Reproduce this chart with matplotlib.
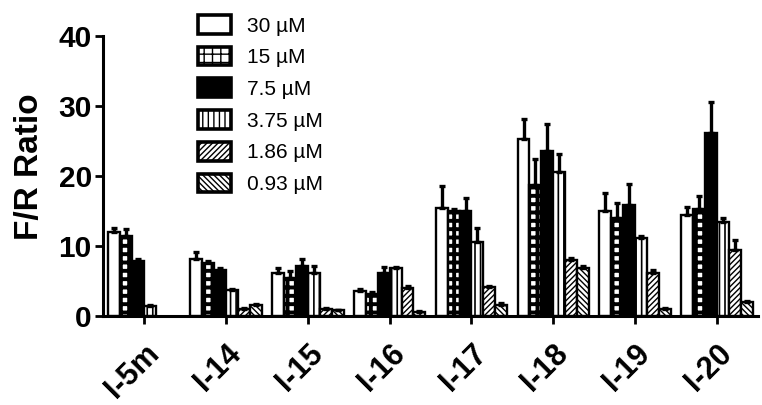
import numpy as np
import matplotlib
matplotlib.use("Agg")
import matplotlib.pyplot as plt

plt.rcParams["font.family"] = ["Liberation Sans", "DejaVu Sans"]
plt.rcParams["hatch.linewidth"] = 1.0

compounds = ["I-5m", "I-14", "I-15", "I-16", "I-17", "I-18", "I-19", "I-20"]
conc_labels = ["30 µM", "15 µM", "7.5 µM", "3.75 µM", "1.86 µM", "0.93 µM"]

v30 = [12.0, 8.1, 6.2, 3.5, 15.4, 25.3, 15.0, 14.4]
e30 = [0.5, 1.1, 0.7, 0.3, 3.1, 2.8, 2.5, 1.1]
v15 = [11.4, 7.5, 5.4, 3.2, 15.0, 18.7, 14.0, 15.3]
e15 = [1.0, 0.3, 1.0, 0.2, 0.3, 3.7, 2.1, 1.8]
v7_5 = [7.9, 6.5, 7.2, 6.1, 15.0, 23.5, 15.9, 26.1]
e7_5 = [0.2, 0.3, 0.9, 0.9, 1.9, 3.9, 2.9, 4.5]
v3_75 = [1.4, 3.7, 6.2, 6.8, 10.6, 20.6, 11.2, 13.4]
e3_75 = [0.1, 0.2, 1.0, 0.2, 1.9, 2.6, 0.2, 0.6]
v1_86 = [0.0, 1.0, 1.0, 4.0, 4.1, 8.0, 6.2, 9.4]
e1_86 = [0.0, 0.2, 0.1, 0.3, 0.2, 0.3, 0.3, 1.5]
v0_93 = [0.0, 1.5, 0.8, 0.6, 1.6, 6.8, 1.0, 2.0]
e0_93 = [0.0, 0.2, 0.1, 0.1, 0.2, 0.3, 0.2, 0.2]

series = [(v30, e30), (v15, e15), (v7_5, e7_5), (v3_75, e3_75), (v1_86, e1_86), (v0_93, e0_93)]
faces = ["white", "white", "black", "white", "white", "white"]
hatches = [None, "++", None, "|||", "//////", "\\\\\\\\\\\\"]
hatch_lw = [1.0, 2.8, 1.0, 1.2, 1.0, 1.0]

fig = plt.figure(figsize=(7.62, 4.05), dpi=100)
ax = fig.add_axes([0.135, 0.22, 0.86, 0.691])

x = np.arange(len(compounds))
w = 0.146
for i, (vals, errs) in enumerate(series):
    pos = x + (i - 2.5) * w
    h = np.array(vals, dtype=float)
    h[h == 0] = np.nan  # missing measurements: draw nothing
    with plt.rc_context({"hatch.linewidth": hatch_lw[i]}):
        bars = ax.bar(pos, h, width=w, color=faces[i], edgecolor="black",
                      hatch=hatches[i], linewidth=1.7, label=conc_labels[i], zorder=2)
        for b in bars:
            if hasattr(b, "set_hatch_linewidth"):
                b.set_hatch_linewidth(hatch_lw[i])
    ax.errorbar(pos, h, yerr=[np.zeros(len(errs)), errs], fmt="none", ecolor="black",
                elinewidth=2.4, capsize=2.5, capthick=2.4, zorder=3)

ax.set_xlim(-0.5, 7.5)
ax.set_ylim(0, 40)
ax.set_yticks([0, 10, 20, 30, 40])
ax.set_xticks(x)
ax.set_xticklabels(compounds, rotation=45, ha="right", rotation_mode="anchor",
                   fontsize=22, fontweight="bold")
for lab in ax.get_yticklabels():
    lab.set_fontsize(21.5)
    lab.set_fontweight("bold")
ax.set_ylabel("F/R Ratio", fontsize=24, fontweight="bold")
ax.yaxis.set_label_coords(-0.089, 0.532)

for s in ["top", "right"]:
    ax.spines[s].set_visible(False)
for s in ["left", "bottom"]:
    ax.spines[s].set_linewidth(2.2)
ax.tick_params(axis="both", width=2, length=6, direction="out")
ax.tick_params(axis="x", pad=10)
ax.tick_params(axis="y", pad=2)

leg = ax.legend(loc="upper left", bbox_to_anchor=(0.145, 1.075), frameon=False,
                fontsize=15, handlelength=1.6, handleheight=1.0, labelspacing=0.54,
                handletextpad=0.77, borderaxespad=0, borderpad=0)
for hnd in leg.legend_handles:
    hnd.set_linewidth(2.6)

fig.savefig("out.png", dpi=100)
